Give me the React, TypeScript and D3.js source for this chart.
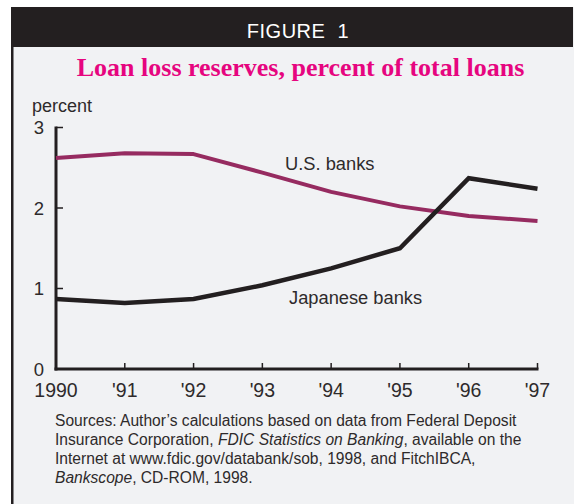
import React from "react";
import * as d3 from "d3";

const years = [1990, 1991, 1992, 1993, 1994, 1995, 1996, 1997];
const yearLabels = ["1990", "'91", "'92", "'93", "'94", "'95", "'96", "'97"];
const usBanks = [2.62, 2.68, 2.67, 2.44, 2.2, 2.02, 1.9, 1.84];
const japaneseBanks = [0.87, 0.82, 0.87, 1.04, 1.25, 1.5, 2.37, 2.24];
const yTicks = [0, 1, 2, 3];
const sourceLines = [
  [{ t: "Sources: Author\u2019s calculations based on data from Federal Deposit", i: false }],
  [
    { t: "Insurance Corporation, ", i: false },
    { t: "FDIC Statistics on Banking", i: true },
    { t: ", available on the", i: false },
  ],
  [{ t: "Internet at www.fdic.gov/databank/sob, 1998, and FitchIBCA,", i: false }],
  [
    { t: "Bankscope", i: true },
    { t: ", CD-ROM, 1998.", i: false },
  ],
];

const W = 574;
const H = 504;
const dark = "#231f20";
const textColor = "#2e2a2b";
const usColor = "#962b60";
const font = "'Liberation Sans', Arial, sans-serif";

export default function App() {
  const x = d3.scaleLinear().domain([1990, 1997]).range([56, 537.5]);
  const y = d3.scaleLinear().domain([0, 3]).range([369, 127.5]);
  const line = d3
    .line<number>()
    .x((_, i) => x(years[i]))
    .y((d) => y(d))
    .curve(d3.curveLinear);

  return (
    <svg
      width={W}
      height={H}
      style={{ position: "absolute", left: 0, top: 0, background: "#fff" }}
    >
      <rect x={11} y={7} width={W - 11} height={H - 7} fill="#f1f2f4" />
      <rect x={11} y={7} width={2.5} height={H - 7} fill={dark} />
      <rect x={11} y={7} width={562} height={40} fill={dark} />
      <text
        x={298}
        y={38}
        textAnchor="middle"
        fill="#fff"
        fontFamily={font}
        fontSize={20}
        letterSpacing={0.5}
      >
        FIGURE&#160;&#160;1
      </text>
      <text
        x={300.5}
        y={76}
        textAnchor="middle"
        fill="#e6057f"
        fontFamily="'Liberation Serif', 'Times New Roman', serif"
        fontWeight="bold"
        fontSize={26}
      >
        Loan loss reserves, percent of total loans
      </text>

      <text x={32} y={112} fontFamily={font} fontSize={18} fill={textColor}>
        percent
      </text>

      {/* y axis */}
      <line x1={x(1990)} x2={x(1990)} y1={y(3) - 1} y2={y(0) + 1.5} stroke={dark} strokeWidth={3} />
      {yTicks.map((t) => (
        <g key={t}>
          {t > 0 && (
            <line x1={x(1990)} x2={x(1990) + 7} y1={y(t)} y2={y(t)} stroke={dark} strokeWidth={1.5} />
          )}
          <text
            x={44}
            y={y(t)}
            dy="0.36em"
            textAnchor="end"
            fontFamily={font}
            fontSize={18.5}
            fill={textColor}
          >
            {t}
          </text>
        </g>
      ))}

      {/* x axis */}
      <line x1={x(1990) - 1.5} x2={x(1997) + 1} y1={y(0)} y2={y(0)} stroke={dark} strokeWidth={3} />
      {years.map((yr, i) => (
        <g key={yr}>
          {i > 0 && (
            <line x1={x(yr)} x2={x(yr)} y1={y(0)} y2={y(0) - 6} stroke={dark} strokeWidth={1.5} />
          )}
          <text
            x={x(yr)}
            y={397}
            textAnchor="middle"
            fontFamily={font}
            fontSize={19.5}
            fill={textColor}
          >
            {yearLabels[i]}
          </text>
        </g>
      ))}

      <path d={line(usBanks) || ""} fill="none" stroke={usColor} strokeWidth={4} strokeLinejoin="round" />
      <path d={line(japaneseBanks) || ""} fill="none" stroke={dark} strokeWidth={4.5} strokeLinejoin="miter" />

      <text x={285} y={170} fontFamily={font} fontSize={18.3} fill={textColor}>
        U.S. banks
      </text>
      <text x={289} y={304} fontFamily={font} fontSize={18.3} fill={textColor}>
        Japanese banks
      </text>

      {sourceLines.map((ln, li) => (
        <text key={li} x={55} y={426 + li * 19} fontFamily={font} fontSize={15.6} fill={textColor}>
          {ln.map((s, si) => (
            <tspan key={si} fontStyle={s.i ? "italic" : "normal"}>
              {s.t}
            </tspan>
          ))}
        </text>
      ))}
    </svg>
  );
}
